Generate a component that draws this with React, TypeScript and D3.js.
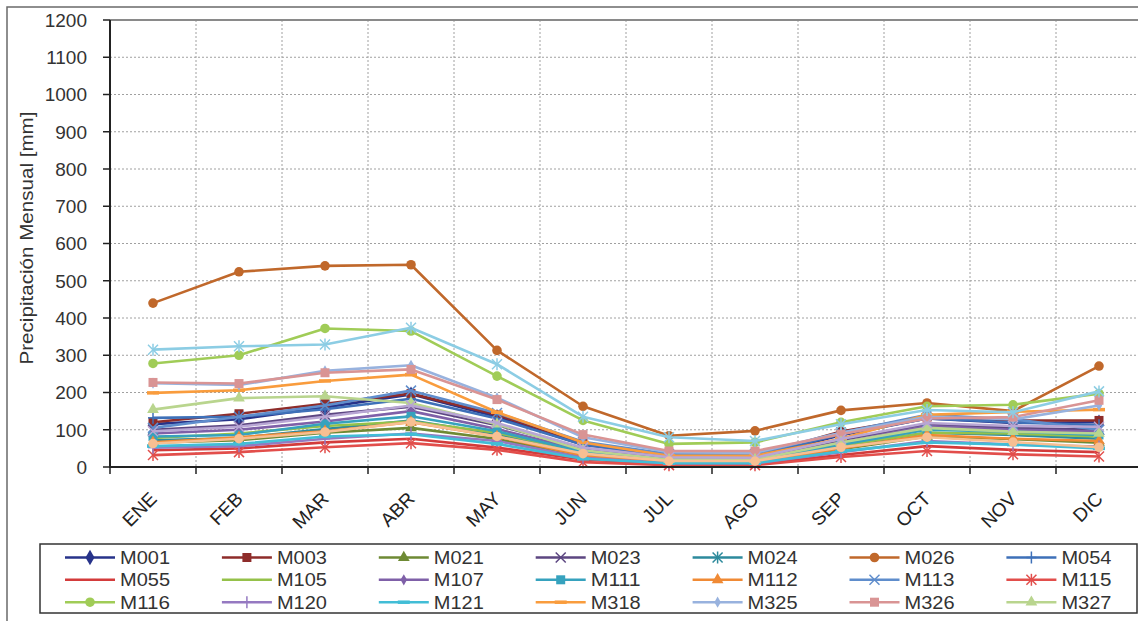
import React from "react";
import { scaleBand, scaleLinear, line, symbol, symbolDiamond, symbolTriangle } from "d3";

// months on the x axis
const months = ["ENE", "FEB", "MAR", "ABR", "MAY", "JUN", "JUL", "AGO", "SEP", "OCT", "NOV", "DIC"];
const yTicks = [0, 100, 200, 300, 400, 500, 600, 700, 800, 900, 1000, 1100, 1200];

// monthly precipitation [mm]
const m001 = [115, 128, 160, 195, 135, 60, 30, 28, 85, 130, 118, 120];
const m003 = [120, 143, 170, 197, 140, 65, 32, 30, 95, 135, 125, 125];
const m021 = [65, 72, 92, 105, 75, 30, 15, 14, 48, 82, 75, 65];
const m023 = [100, 112, 140, 162, 112, 50, 25, 24, 72, 115, 105, 100];
const m024 = [72, 78, 102, 125, 88, 36, 16, 16, 56, 92, 86, 76];
const m026 = [440, 524, 540, 543, 313, 163, 84, 97, 152, 172, 150, 271];
const m054 = [132, 135, 155, 183, 130, 60, 30, 30, 88, 130, 120, 112];
const m055 = [45, 50, 66, 76, 52, 20, 8, 8, 32, 56, 46, 40];
const m105 = [78, 90, 110, 122, 92, 40, 18, 18, 58, 92, 90, 82];
const m107 = [90, 100, 122, 150, 102, 45, 20, 20, 66, 110, 100, 95];
const m111 = [82, 86, 116, 136, 96, 40, 20, 20, 60, 100, 95, 86];
const m112 = [66, 80, 96, 120, 82, 30, 12, 12, 50, 86, 76, 70];
const m113 = [105, 135, 165, 205, 145, 68, 35, 35, 92, 140, 128, 100];
const m115 = [32, 40, 53, 64, 46, 13, 5, 5, 27, 43, 34, 28];
const m116 = [278, 300, 372, 365, 244, 125, 62, 66, 120, 163, 167, 197];
const m120 = [52, 56, 76, 90, 70, 25, 10, 10, 40, 70, 60, 55];
const m121 = [56, 62, 82, 88, 62, 22, 10, 10, 42, 66, 60, 50];
const m318 = [199, 206, 231, 248, 147, 66, 30, 30, 76, 140, 148, 154];
const m325 = [225, 220, 258, 273, 186, 80, 40, 38, 92, 135, 128, 165];
const m326 = [227, 224, 253, 262, 181, 87, 43, 43, 88, 130, 134, 179];
const m327 = [154, 185, 190, 172, 115, 45, 20, 20, 66, 105, 95, 90];
// three more series are plotted but cut off from the legend
const s22 = [96, 108, 135, 165, 118, 52, 26, 25, 75, 118, 110, 108];
const s23 = [315, 324, 329, 374, 276, 135, 80, 70, 115, 153, 147, 203];
const s24 = [63, 76, 94, 121, 82, 36, 16, 16, 53, 80, 67, 53];

const names = [
  "M001", "M003", "M021", "M023", "M024", "M026", "M054",
  "M055", "M105", "M107", "M111", "M112", "M113", "M115",
  "M116", "M120", "M121", "M318", "M325", "M326", "M327",
  "", "", "",
];
const values = [
  m001, m003, m021, m023, m024, m026, m054,
  m055, m105, m107, m111, m112, m113, m115,
  m116, m120, m121, m318, m325, m326, m327,
  s22, s23, s24,
];

// styles (excel-like sequence)
const colors = [
  "#27338a", "#8e2c2a", "#6e8a34", "#5c4681", "#2d8a9c", "#c0682b", "#3e70b8",
  "#d33b3b", "#95c14a", "#7f60a8", "#36a2be", "#f08a35", "#5f8dcc", "#e24e4b",
  "#a0cc57", "#9579c1", "#42bdd6", "#f99c3d", "#98b2de", "#d99494", "#b9d58e",
  "#b8a6d4", "#8ccde4", "#f7bf92",
];
const markers = [
  "diamond", "square", "triangle", "x", "star", "circle", "plus",
  "none", "none", "smalldiamond", "square", "triangle", "x", "star",
  "circle", "plus", "dash", "dash", "smalldiamond", "square", "triangle",
  "x", "star", "circle",
];

const Marker = ({ type, x, y, color }) => {
  const t = `translate(${x},${y})`;
  switch (type) {
    case "diamond":
      return <path transform={t} d={symbol(symbolDiamond, 70)()} fill={color} />;
    case "smalldiamond":
      return <path transform={t} d={symbol(symbolDiamond, 36)()} fill={color} />;
    case "triangle":
      return <path transform={t} d={symbol(symbolTriangle, 60)()} fill={color} />;
    case "square":
      return <rect x={x - 4.5} y={y - 4.5} width={9} height={9} fill={color} />;
    case "circle":
      return <circle cx={x} cy={y} r={4.8} fill={color} />;
    case "x":
      return (
        <g transform={t} stroke={color} strokeWidth={1.5}>
          <line x1={-5} y1={-5} x2={5} y2={5} />
          <line x1={-5} y1={5} x2={5} y2={-5} />
        </g>
      );
    case "star":
      return (
        <g transform={t} stroke={color} strokeWidth={1.5}>
          <line x1={-5} y1={-5} x2={5} y2={5} />
          <line x1={-5} y1={5} x2={5} y2={-5} />
          <line x1={0} y1={-6} x2={0} y2={6} />
        </g>
      );
    case "plus":
      return (
        <g transform={t} stroke={color} strokeWidth={1.5}>
          <line x1={-5} y1={0} x2={5} y2={0} />
          <line x1={0} y1={-6} x2={0} y2={6} />
        </g>
      );
    case "dash":
      return <line x1={x - 6} y1={y} x2={x + 6} y2={y} stroke={color} strokeWidth={3.5} />;
    default:
      return null;
  }
};

export default function App() {
  const width = 1138;
  const height = 621;
  const margin = { top: 20, right: -4, bottom: 154, left: 110 };
  const innerBottom = height - margin.bottom; // 467

  const xScale = scaleBand()
    .domain(months)
    .range([margin.left, width - margin.right])
    .paddingInner(0)
    .paddingOuter(0);
  const yScale = scaleLinear().domain([0, 1200]).range([innerBottom, margin.top]);
  const cx = (m) => xScale(m) + xScale.bandwidth() / 2;

  const path = line()
    .x((d, i) => cx(months[i]))
    .y((d) => yScale(d));

  const boundaries = months.map((m) => xScale(m)).concat([width - margin.right]);
  const font = "'Liberation Sans', Arial, sans-serif";

  const legendLeft = 65;
  const legendColStep = 156.9;
  const legendRows = [557.5, 579.8, 602.2];

  return (
    <svg
      width={width}
      height={height}
      style={{ position: "absolute", left: 0, top: 0, background: "#fff", display: "block" }}
      fontFamily={font}
    >
      {/* outer frame */}
      <rect x={7} y={7} width={1145} height={630} fill="none" stroke="#6a6a6a" strokeWidth={1.5} />

      {/* grid */}
      <g stroke="#a0a0a0" strokeWidth={1} strokeDasharray="2,2">
        {yTicks.slice(1, -1).map((t) => (
          <line key={t} x1={margin.left} x2={width} y1={yScale(t)} y2={yScale(t)} />
        ))}
        {boundaries.slice(1).map((b, i) => (
          <line key={i} x1={b} x2={b} y1={margin.top} y2={innerBottom} />
        ))}
      </g>
      <line x1={margin.left} x2={width} y1={yScale(1200)} y2={yScale(1200)} stroke="#8a8a8a" strokeWidth={2} />

      {/* series */}
      {values.map((vals, si) => (
        <g key={si}>
          <path d={path(vals)} fill="none" stroke={colors[si]} strokeWidth={2.6} strokeLinejoin="round" />
          {vals.map((v, i) => (
            <Marker key={i} type={markers[si]} x={cx(months[i])} y={yScale(v)} color={colors[si]} />
          ))}
        </g>
      ))}

      {/* y axis */}
      <line x1={margin.left} x2={margin.left} y1={margin.top} y2={innerBottom + 1} stroke="#222" strokeWidth={2} />
      {yTicks.map((t) => (
        <g key={t}>
          <line x1={margin.left - 7} x2={margin.left} y1={yScale(t)} y2={yScale(t)} stroke="#222" strokeWidth={1.5} />
          <text x={87} y={yScale(t)} dy="0.36em" textAnchor="end" fontSize={19} fill="#333">
            {t}
          </text>
        </g>
      ))}
      <text
        transform={`translate(33,238) rotate(-90)`}
        textAnchor="middle"
        fontSize={18.5}
        textLength={253}
        lengthAdjust="spacingAndGlyphs"
        fill="#333"
      >
        Precipitación Mensual [mm]
      </text>

      {/* x axis */}
      <line x1={margin.left - 1} x2={width} y1={innerBottom} y2={innerBottom} stroke="#222" strokeWidth={2} />
      {boundaries.map((b, i) => (
        <line key={i} x1={b} x2={b} y1={innerBottom} y2={innerBottom + 7} stroke="#222" strokeWidth={1.5} />
      ))}
      {months.map((m) => (
        <text
          key={m}
          transform={`translate(${cx(m) + 5},500) rotate(-45)`}
          textAnchor="end"
          fontSize={19}
          fill="#222"
        >
          {m}
        </text>
      ))}

      {/* legend */}
      <rect x={40} y={544} width={1097} height={69} fill="#fff" stroke="#333" strokeWidth={1.5} />
      {names.map((n, i) => {
        if (!n) return null;
        const col = i % 7;
        const row = Math.floor(i / 7);
        const x0 = legendLeft + col * legendColStep;
        const y0 = legendRows[row];
        return (
          <g key={n}>
            <line x1={x0} x2={x0 + 50} y1={y0} y2={y0} stroke={colors[i]} strokeWidth={2.6} />
            <Marker type={markers[i]} x={x0 + 25} y={y0} color={colors[i]} />
            <text
              x={x0 + 55}
              y={y0}
              dy="0.36em"
              fontSize={17.5}
              textLength={50}
              lengthAdjust="spacingAndGlyphs"
              fill="#333"
            >
              {n}
            </text>
          </g>
        );
      })}
    </svg>
  );
}
